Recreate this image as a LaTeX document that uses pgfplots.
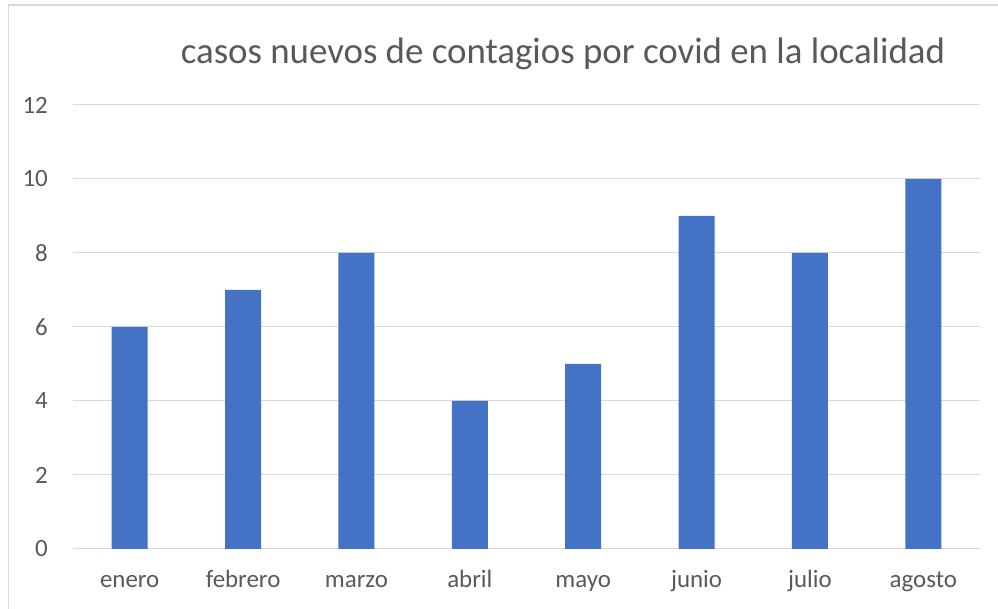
\documentclass[border=0pt]{standalone}
\usepackage{pgfplots}
\pgfplotsset{compat=1.18}
\usepackage{fontspec}
\setmainfont{Carlito}
\definecolor{barblue}{HTML}{4472C4}
\definecolor{gridgray}{HTML}{D9D9D9}
\definecolor{txtgray}{HTML}{595959}
\begin{document}
\begin{tikzpicture}[x=1bp,y=1bp]
\path[use as bounding box] (0,0) rectangle (998,609);
\draw[gridgray, line width=1.5bp] (8.5,-5) -- (8.5,604) -- (1005,604);
\begin{axis}[
  at={(73bp,60bp)}, anchor=south west,
  scale only axis, width=907bp, height=444bp,
  ybar, bar width=36bp,
  xmin=-0.5, xmax=7.5, ymin=0, ymax=12,
  xtick=data,
  xticklabels={enero,febrero,marzo,abril,mayo,junio,julio,agosto},
  ytick={0,2,4,6,8,10,12},
  ymajorgrids, grid style={gridgray, line width=1bp},
  axis line style={draw=none},
  axis x line*=bottom,
  x axis line style={draw=gridgray, line width=1bp},
  major tick length=0pt,
  tick label style={font=\fontsize{25}{30}\selectfont, text=txtgray},
  /pgf/number format/assume math mode=true,
  yticklabel style={anchor=east, inner sep=0pt, xshift=-25bp},
  xticklabel style={anchor=base, inner sep=0pt, yshift=-39bp},
  clip=false,
]
\addplot[fill=barblue, draw=none] coordinates {(0,6) (1,7) (2,8) (3,4) (4,5) (5,9) (6,8) (7,10)};
\end{axis}
\node[text=txtgray, font=\fontsize{37}{44}\selectfont] at (563,555) {casos nuevos de contagios por covid en la localidad};
\end{tikzpicture}
\end{document}
